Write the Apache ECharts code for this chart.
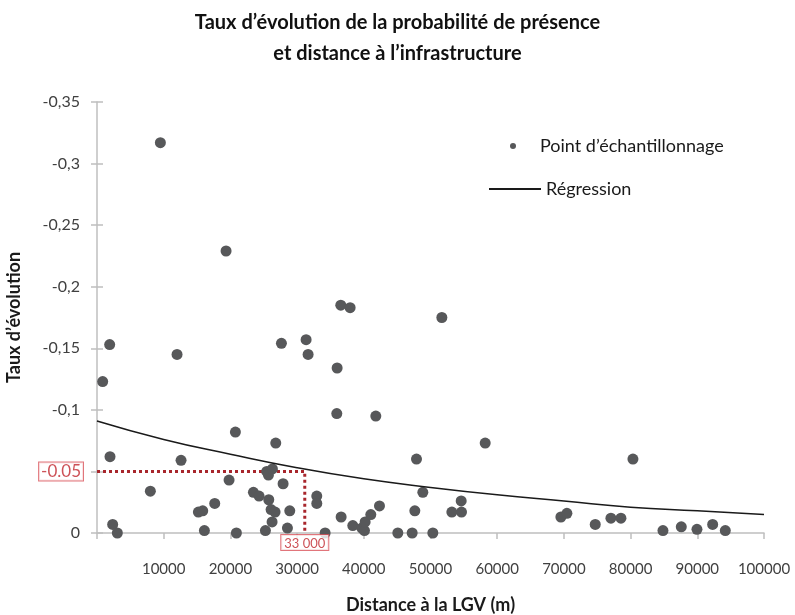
<!DOCTYPE html>
<html>
<head>
<meta charset="utf-8">
<script src="https://cdn.jsdelivr.net/npm/echarts@6/dist/echarts.min.js"></script>
<style>html,body{margin:0;padding:0;background:#fff}#c{width:795px;height:615px}</style>
</head>
<body>
<div id="c"></div>
<script>
// Sampling points: distance to LGV (m) and rate of change
var pointX = [850,1900,1950,2350,3050,8000,9500,12000,12600,15200,15850,16100,17650,19350,19800,20750,20900,23450,24300,25250,25450,25700,25750,26100,26250,26300,26700,26800,27650,27900,28550,28900,31350,31650,32950,32950,34200,35950,36000,36550,36600,37950,38350,39700,40100,40200,41050,41800,42350,45100,47250,47650,47900,48850,50350,51700,53200,54600,54650,58200,69550,70450,74700,77050,78550,80350,84850,87600,89950,92300,94200];
var pointY = [-0.123,-0.153,-0.062,-0.007,0,-0.034,-0.317,-0.145,-0.059,-0.017,-0.018,-0.002,-0.024,-0.229,-0.043,-0.082,0,-0.033,-0.030,-0.002,-0.050,-0.047,-0.027,-0.019,-0.009,-0.052,-0.017,-0.073,-0.154,-0.040,-0.004,-0.018,-0.157,-0.145,-0.030,-0.024,0,-0.097,-0.134,-0.185,-0.013,-0.183,-0.006,-0.004,-0.002,-0.009,-0.015,-0.095,-0.022,0,0,-0.018,-0.060,-0.033,0,-0.175,-0.017,-0.026,-0.017,-0.073,-0.013,-0.016,-0.007,-0.012,-0.012,-0.060,-0.002,-0.005,-0.003,-0.007,-0.002];
// Regression curve
var regX = [0,10000,20000,30000,40000,50000,60000,70000,80000,90000,100000];
var regY = [-0.091,-0.076,-0.064,-0.053,-0.044,-0.037,-0.031,-0.026,-0.021,-0.018,-0.015];
// Annotation (dotted guide)
var annotX = [0, 31150, 31150];
var annotY = [-0.05, -0.05, 0];
var annotYLabel = '-0.05';
var annotXLabel = '33 000';
var xTicks = [10000,20000,30000,40000,50000,60000,70000,80000,90000,100000];

var FONT = 'Lato';
var RED = '#c0262d';
var scatterData = pointX.map(function(x,i){return [x, pointY[i]];});
var regData = regX.map(function(x,i){return [x, regY[i]];});
var annotData = annotX.map(function(x,i){return [x, annotY[i]];});
var annotLabels = [
  {value:[annotX[0], annotY[0]], label:{show:true, position:'left', distance:13, formatter:annotYLabel,
    color:RED, fontSize:17, fontFamily:FONT, borderColor:'#d9535a', borderWidth:1,
    backgroundColor:'#fff', padding:[1,2,0,2]}},
  {value:[annotX[2], annotY[2]], label:{show:true, position:'bottom', distance:1, formatter:annotXLabel,
    color:RED, fontSize:13, fontFamily:FONT, borderColor:'#d9535a', borderWidth:1,
    backgroundColor:'#fff', padding:[2,3,0,3]}}
];

var chart = echarts.init(document.getElementById('c'), null, {renderer:'canvas'});
chart.setOption({
  animation:false,
  backgroundColor:'#fff',
  title:{
    text:'Taux d\u2019évolution de la probabilité de présence\net distance à l\u2019infrastructure',
    left:'center', top:2, padding:[5,0,5,18],
    textStyle:{fontFamily:FONT, fontWeight:'bold', fontSize:20, color:'#111', lineHeight:31}
  },
  legend:[
    {data:[{name:'Point d\u2019échantillonnage', icon:'circle'}], left:505, top:132, itemWidth:6, itemHeight:6,
     textStyle:{fontFamily:FONT, fontSize:18, color:'#1a1a1a', padding:[0,0,0,19]}},
    {data:[{name:'Régression', icon:'rect', itemStyle:{color:'#1a1a1a'}}], left:484, top:175, itemWidth:52, itemHeight:2,
     textStyle:{fontFamily:FONT, fontSize:18, color:'#1a1a1a'}}
  ],
  grid:{left:97, right:31, top:102, bottom:82, containLabel:false, outerBoundsMode:'none'},
  xAxis:{
    type:'value', min:0, max:100000, interval:10000,
    name:'Distance à la LGV (m)', nameLocation:'middle', nameGap:63,
    nameTextStyle:{fontFamily:FONT, fontWeight:'bold', fontSize:18, color:'#1a1a1a'},
    axisLine:{onZero:false, lineStyle:{color:'#bfbfbf', width:1.5}},
    axisTick:{show:true, length:6, lineStyle:{color:'#bfbfbf', width:1.5}},
    splitLine:{show:false},
    axisLabel:{fontFamily:FONT, fontSize:15, color:'#404040', margin:29,
      formatter:function(v){return xTicks.indexOf(v) >= 0 ? String(v) : '';}}
  },
  yAxis:[{
    type:'value', min:-0.35, max:0, interval:0.05, inverse:true,
    name:'Taux d\u2019évolution', nameLocation:'middle', nameGap:74, nameRotate:90,
    nameTextStyle:{fontFamily:FONT, fontWeight:'bold', fontSize:18, color:'#1a1a1a'},
    axisLine:{show:true, lineStyle:{color:'#bfbfbf', width:1.5}},
    axisTick:{show:true, length:6, lineStyle:{color:'#bfbfbf', width:1.5}},
    splitLine:{show:false},
    axisLabel:{fontFamily:FONT, fontSize:16, color:'#404040', margin:17,
      formatter:function(v){
        if (Math.abs(v) < 1e-9) return '0';
        if (Math.abs(v + 0.05) < 1e-9) return '';
        return String(+v.toFixed(2)).replace('.', ',');
      }}
  },{
    type:'value', min:-0.35, max:0, interval:0.05, inverse:true, position:'left', offset:0,
    axisLine:{show:false}, axisLabel:{show:false}, splitLine:{show:false},
    axisTick:{show:true, inside:true, length:6, lineStyle:{color:'#bfbfbf', width:1.5}}
  }],
  series:[
    {name:'Point d\u2019échantillonnage', type:'scatter', data:scatterData, symbolSize:11,
     itemStyle:{color:'#57585a', opacity:1}, z:3},
    {name:'Régression', type:'line', data:regData, smooth:true, symbol:'none', showSymbol:false,
     lineStyle:{color:'#1a1a1a', width:1.5}, itemStyle:{color:'#1a1a1a'}, z:4},
    {name:'annot', type:'line', data:annotData, symbol:'none', showSymbol:false,
     lineStyle:{color:'#a8262c', width:3, type:[3,3]}, z:2, silent:true},
    {name:'annotLabels', type:'scatter', data:annotLabels, symbolSize:2, silent:true, z:6,
     itemStyle:{color:'rgba(0,0,0,0)'}}
  ]
});
</script>
</body>
</html>
